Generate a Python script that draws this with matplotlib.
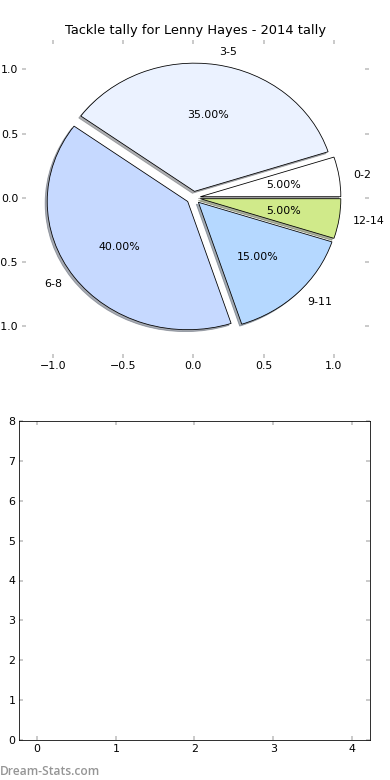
import matplotlib
matplotlib.use('Agg')
import matplotlib.pyplot as plt

labels = ['0-2', '3-5', '6-8', '9-11', '12-14']
shares = [5, 35, 40, 15, 5]
colors = ['#ffffff', '#ebf2ff', '#c6d9ff', '#b5d8ff', '#d0ea8a']
explode = [0.05, 0.05, 0.05, 0.05, 0.05]

fig = plt.figure(figsize=(390 / 72, 780 / 72), dpi=72)

ax1 = fig.add_axes([22 / 390, 1 - 358 / 780, 347 / 390, 318 / 780])
ax1.pie(shares, labels=labels, colors=colors, explode=explode, autopct='%1.2f%%',
        shadow={'ox': -0.015, 'oy': -0.015, 'shade': 0.6}, startangle=0, frame=True,
        wedgeprops={'edgecolor': 'black', 'linewidth': 0.8},
        textprops={'fontsize': 11})
ax1.set_aspect('auto')
ax1.set_xlim(-1.22, 1.25)
ax1.set_ylim(-1.25, 1.23)
ax1.set_xticks([-1.0, -0.5, 0.0, 0.5, 1.0])
ax1.set_yticks([-1.0, -0.5, 0.0, 0.5, 1.0])
for s in ax1.spines.values():
    s.set_visible(False)
ax1.tick_params(direction='in', color='#bbbbbb', width=1.5, length=4,
                top=True, right=True, labelsize=11)
ax1.set_title('Tackle tally for Lenny Hayes - 2014 tally', fontsize=13)

ax2 = fig.add_axes([19 / 390, 1 - 740 / 780, 351 / 390, 319 / 780])
ax2.set_xlim(-0.23, 4.23)
ax2.set_ylim(0, 8)
ax2.set_xticks(range(5))
ax2.set_yticks(range(9))
ax2.tick_params(direction='in', color='#bbbbbb', width=1.5, length=4,
                top=True, right=True, labelsize=11)

fig.text(0.0, 0.006, 'Dream-Stats.com', color='#959595', fontsize=12,
         fontweight='semibold', family='Open Sans')

fig.savefig('out.png', dpi=72)
